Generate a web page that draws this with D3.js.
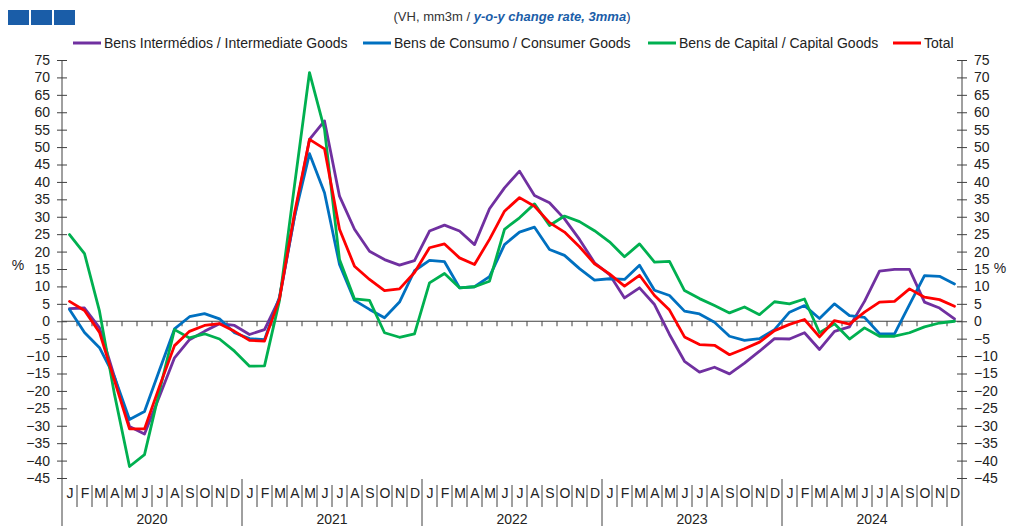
<!DOCTYPE html>
<html>
<head>
<meta charset="utf-8">
<script src="https://cdn.jsdelivr.net/npm/d3@7"></script>
<style>
  html, body { margin: 0; padding: 0; background: #fff; }
  svg { display: block; }
  text { font-family: "Liberation Sans", Arial, sans-serif; }
</style>
</head>
<body>
<svg id="chart" width="1012" height="526"></svg>
<script>
// ---- data ----
const years = ["2020", "2021", "2022", "2023", "2024"];
const monthLetters = ["J","F","M","A","M","J","J","A","S","O","N","D"];
const yTicks = d3.range(-45, 80, 5);

const seriesNames = [
  "Bens Intermédios / Intermediate Goods",
  "Bens de Consumo / Consumer Goods",
  "Bens de Capital / Capital Goods",
  "Total"
];
const seriesColors = ["#7030A0", "#0070C0", "#00B050", "#FF0000"];

const intermediate = [
  3.6, 3.8, -1.9, -16, -30.2, -32.4, -21.5, -10.5, -5.3, -2.9, -0.7, -1.2,
  -3.8, -2.4, 6.5, 30, 52.2, 57.5, 35.9, 26.4, 20.1, 17.7, 16.1, 17.4,
  25.9, 27.6, 25.9, 22, 32.3, 38.3, 43.1, 36.1, 34, 29.4, 23.5, 16.8,
  13.4, 6.7, 9.6, 4.8, -3.8, -11.5, -14.6, -13.2, -15.1, -12, -8.6, -5,
  -5.1, -3.3, -8.1, -2.9, -1.6, 5.7, 14.4, 14.9, 14.9, 5.5, 3.8, 0.7
];
const consumer = [
  3.4, -3.2, -7.6, -16, -28.2, -25.9, -14, -2.2, 1.3, 2.2, 0.7, -3.3,
  -5.0, -5.3, 7, 30, 48.1, 36.9, 16.3, 6.0, 3.4, 1.0, 5.5, 14.5,
  17.5, 17.1, 9.6, 9.9, 12.8, 22, 25.6, 27, 20.6, 18.9, 15.1, 11.8,
  12.2, 12, 16.1, 8.9, 7.4, 2.9, 2.1, -0.3, -4.3, -5.5, -5, -2.4,
  2.6, 4.5, 0.8, 5, 1.6, 1.1, -3.6, -3.6, 4.8, 13.1, 12.9, 10.7
];
const capital = [
  24.9, 19.4, 2.9, -21, -41.7, -38.3, -20, -2.4, -4.8, -3.6, -5.1, -8.6,
  -12.9, -12.8, 6, 39, 71.4, 55.1, 17.7, 6.4, 6.0, -3.3, -4.6, -3.6,
  11, 13.7, 9.6, 9.9, 11.5, 26.4, 29.7, 33.7, 27.5, 30.2, 28.6, 26,
  22.8, 18.5, 22.2, 17, 17.2, 8.8, 6.5, 4.5, 2.4, 4.1, 1.9, 5.6,
  5, 6.4, -3.3, -0.7, -5.1, -1.9, -4.3, -4.3, -3.3, -1.6, -0.5, 0
];
const total = [
  5.7, 3.1, -3.2, -17, -30.9, -30.9, -18.7, -7, -2.9, -1.2, -0.7, -2.9,
  -5.5, -5.7, 6.5, 31, 52.2, 49.5, 26.4, 15.8, 12, 8.8, 9.3, 14,
  21.1, 22.2, 18.2, 16.3, 23.5, 31.6, 35.5, 33, 28.3, 25.6, 21.4, 16.5,
  13.6, 10.1, 13.2, 7.4, 3.2, -4.5, -6.7, -6.9, -9.6, -7.9, -6.0, -2.7,
  -0.9, 0.5, -4.5, 0.2, -0.8, 2.6, 5.5, 5.7, 9.3, 6.9, 6.2, 4.3
];
const seriesValues = [intermediate, consumer, capital, total];

(function () {
// ---- layout ----
const svg = d3.select("#chart");
const pL = 62, pR = 962, pT = 60, pB = 478;
const nMonths = years.length * 12;
const axisColor = "#404040";
const textColor = "#222";
const fontFam = '"Liberation Sans", Arial, sans-serif';

const x = d3.scaleLinear().domain([0, nMonths]).range([pL, pR]);
const y = d3.scaleLinear().domain([-45, 75]).range([pB, pT]);

// header squares
const sq = svg.append("g");
[0, 1, 2].forEach(k => {
  sq.append("rect").attr("x", 8 + k * 23).attr("y", 10).attr("width", 21).attr("height", 15)
    .attr("fill", "#1A5DA8");
});

// subtitle
const sub = svg.append("text").attr("x", 512).attr("y", 21).attr("text-anchor", "middle")
  .attr("font-size", 13).attr("fill", "#333");
sub.append("tspan").text("(VH, mm3m  / ");
sub.append("tspan").attr("font-style", "italic").attr("font-weight", "bold").attr("fill", "#1A5DA8")
  .text("y-o-y change rate, 3mma");
sub.append("tspan").attr("fill", "#1A3D78").text(")");

// legend
const legendX = [73, 363, 648, 893];
const leg = svg.append("g");
seriesNames.forEach((name, k) => {
  const g = leg.append("g").attr("transform", `translate(${legendX[k]},43)`);
  g.append("line").attr("x1", 0).attr("x2", 28).attr("y1", 0).attr("y2", 0)
    .attr("stroke", seriesColors[k]).attr("stroke-width", 3);
  g.append("text").attr("x", 31).attr("y", 5).attr("font-size", 14).attr("fill", textColor).text(name);
});

// y axes
const yAxisL = d3.axisLeft(y).tickValues(yTicks).tickSize(5).tickPadding(7);
const gL = svg.append("g").attr("transform", `translate(${pL},0)`).call(yAxisL);
const yAxisR = d3.axisRight(y).tickValues(yTicks).tickSize(5).tickPadding(7);
const gR = svg.append("g").attr("transform", `translate(${pR},0)`).call(yAxisR);
[gL, gR].forEach((g, k) => {
  g.select(".domain").remove();
  g.selectAll(".tick line").attr("x1", k === 0 ? 5 : -5).attr("stroke", axisColor);
  g.selectAll(".tick text").attr("font-size", 14).attr("fill", textColor).style("font-family", fontFam);
});
svg.append("line").attr("x1", pL).attr("x2", pL).attr("y1", pT).attr("y2", 526).attr("stroke", axisColor);
svg.append("line").attr("x1", pR).attr("x2", pR).attr("y1", pT).attr("y2", 526).attr("stroke", axisColor);

svg.append("text").attr("x", 18).attr("y", 270).attr("text-anchor", "middle").attr("font-size", 14)
  .attr("fill", textColor).text("%");
svg.append("text").attr("x", 1000).attr("y", 273).attr("text-anchor", "middle").attr("font-size", 14)
  .attr("fill", textColor).text("%");

// zero line with month ticks
svg.append("line").attr("x1", pL).attr("x2", pR).attr("y1", y(0)).attr("y2", y(0))
  .attr("stroke", axisColor).attr("stroke-width", 1.2);
svg.append("g").selectAll("line").data(d3.range(1, nMonths)).join("line")
  .attr("x1", d => x(d)).attr("x2", d => x(d)).attr("y1", y(0)).attr("y2", y(0) + 5)
  .attr("stroke", axisColor);

// month labels & separators
const months = d3.range(nMonths);
const xAxis = d3.axisBottom(x).tickValues(months.map(i => i + 0.5)).tickSize(0).tickPadding(0)
  .tickFormat(d => monthLetters[Math.floor(d) % 12]);
const gX = svg.append("g").attr("transform", `translate(0,484)`).call(xAxis);
gX.select(".domain").remove();
gX.selectAll(".tick text").attr("font-size", 14).attr("fill", textColor).attr("dy", "1em")
  .style("font-family", fontFam);

svg.append("g").selectAll("line").data(d3.range(1, nMonths).filter(k => k % 12 !== 0)).join("line")
  .attr("x1", d => x(d)).attr("x2", d => x(d)).attr("y1", 485).attr("y2", 507)
  .attr("stroke", axisColor);
svg.append("g").selectAll("line").data(d3.range(12, nMonths, 12)).join("line")
  .attr("x1", d => x(d)).attr("x2", d => x(d)).attr("y1", 479).attr("y2", 526)
  .attr("stroke", axisColor);
svg.append("g").selectAll("text").data(years).join("text")
  .attr("x", (d, k) => x(k * 12 + 6)).attr("y", 524).attr("text-anchor", "middle")
  .attr("font-size", 14).attr("fill", textColor).text(d => d);

// series lines
const line = d3.line().x((d, i) => x(i + 0.5)).y(d => y(d));
svg.append("g").selectAll("path").data(seriesValues).join("path")
  .attr("d", d => line(d)).attr("fill", "none")
  .attr("stroke", (d, k) => seriesColors[k]).attr("stroke-width", 2.8)
  .attr("stroke-linejoin", "round").attr("stroke-linecap", "round");
})();
</script>
</body>
</html>
